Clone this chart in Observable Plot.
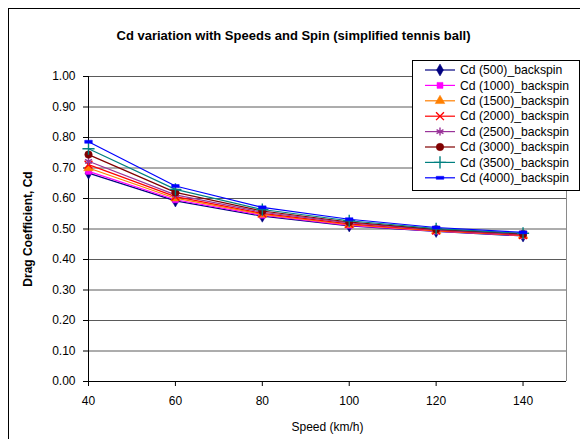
<!DOCTYPE html>
<html>
<head>
<meta charset="utf-8">
<script src="https://cdn.jsdelivr.net/npm/d3@7"></script>
<script src="https://cdn.jsdelivr.net/npm/@observablehq/plot@0.6"></script>
<style>
  html, body { margin: 0; padding: 0; background: #fff; }
  #wrap { position: relative; width: 580px; height: 439px; overflow: hidden; font-family: "Liberation Sans", Arial, sans-serif; }
  #frame { position: absolute; left: 8px; top: 8px; width: 600px; height: 460px; border: 1px solid #000; box-sizing: border-box; pointer-events: none; }
  #legend { position: absolute; left: 0; top: 0; }
</style>
</head>
<body>
<div id="wrap"><div id="frame"></div></div>
<script>
const title = "Cd variation with Speeds and Spin (simplified tennis ball)";
const xLabel = "Speed (km/h)";
const yLabel = "Drag Coefficient, Cd";
const speeds = [40, 60, 80, 100, 120, 140];
const xTicks = [40, 60, 80, 100, 120, 140];
const yTicks = [0, 0.1, 0.2, 0.3, 0.4, 0.5, 0.6, 0.7, 0.8, 0.9, 1.0];

const seriesNames = ["Cd (500)_backspin", "Cd (1000)_backspin", "Cd (1500)_backspin", "Cd (2000)_backspin",
                     "Cd (2500)_backspin", "Cd (3000)_backspin", "Cd (3500)_backspin", "Cd (4000)_backspin"];
const cd500  = [0.683, 0.592, 0.542, 0.510, 0.492, 0.477];
const cd1000 = [0.689, 0.596, 0.545, 0.512, 0.493, 0.478];
const cd1500 = [0.700, 0.601, 0.548, 0.514, 0.494, 0.479];
const cd2000 = [0.711, 0.606, 0.551, 0.517, 0.495, 0.480];
const cd2500 = [0.722, 0.612, 0.555, 0.520, 0.497, 0.482];
const cd3000 = [0.744, 0.620, 0.559, 0.523, 0.499, 0.484];
const cd3500 = [0.763, 0.630, 0.564, 0.527, 0.501, 0.486];
const cd4000 = [0.786, 0.641, 0.571, 0.532, 0.505, 0.489];
const seriesValues = [cd500, cd1000, cd1500, cd2000, cd2500, cd3000, cd3500, cd4000];

const colors = ["#000080", "#ff00ff", "#ff7f00", "#ff0000", "#993399", "#800000", "#008080", "#0000ff"];

// custom symbol: short horizontal bar (Excel "-" marker)
const dash = { draw(ctx, size) { const w = Math.sqrt(size) * 0.6; ctx.rect(-w, -1.5, 2 * w, 3); } };
const symbols = ["diamond", "square", "triangle", "times", "asterisk", "circle", "plus", dash];
const filled = [true, true, true, false, false, true, false, true];
const sizes = [42, 36, 40, 42, 44, 44, 50, 40];

const rows = [];
seriesNames.forEach((name, i) => speeds.forEach((s, j) => rows.push({series: name, i, speed: s, cd: seriesValues[i][j]})));

const marks = [
  Plot.ruleY(yTicks.slice(1), {stroke: "#5a5a5a", strokeWidth: 1}),
  Plot.ruleX([150], {stroke: "#8a8a8a"}),
  Plot.axisX(xTicks, {tickSize: 5, tickPadding: 10, label: null, fontSize: 12}),
  Plot.axisY(yTicks, {tickSize: 5, tickPadding: 8, tickFormat: d3.format(".2f"), label: null, fontSize: 12}),
  Plot.ruleX([40], {stroke: "#000"}),
  Plot.ruleY([0], {stroke: "#000"})
];
seriesNames.forEach((name, i) => {
  const d = rows.filter(r => r.i === i);
  marks.push(Plot.line(d, {x: "speed", y: "cd", stroke: colors[i], strokeWidth: 1.2}));
  marks.push(Plot.dot(d, {x: "speed", y: "cd", symbol: symbols[i],
    fill: filled[i] ? colors[i] : "none", stroke: colors[i], strokeWidth: filled[i] ? 0.5 : 1.4,
    r: Math.sqrt(sizes[i] / Math.PI)}));
});
marks.push(Plot.text([title], {frameAnchor: "top", lineAnchor: "middle", dy: -41, dx: -34, fontWeight: "bold", fontSize: 13, fill: "#000"}));
marks.push(Plot.text([xLabel], {frameAnchor: "bottom", lineAnchor: "middle", dy: 46, fontSize: 12, fill: "#000"}));
marks.push(Plot.text([yLabel], {frameAnchor: "left", textAnchor: "middle", lineAnchor: "middle", dx: -60, rotate: -90, fontWeight: "bold", fontSize: 12, fill: "#000"}));

const chart = Plot.plot({
  width: 580, height: 439,
  marginLeft: 88, marginRight: 14, marginTop: 76, marginBottom: 58,
  x: {domain: [40, 150]},
  y: {domain: [0, 1]},
  style: {fontFamily: "'Liberation Sans', Arial, sans-serif", fontSize: "12px", background: "#fff", color: "#000"},
  marks
});
document.getElementById("wrap").prepend(chart);

// legend
const lg = d3.select("#wrap").append("svg").attr("id", "legend").attr("width", 580).attr("height", 439);
const lx = 412, ly = 60, lw = 167, lh = 130, rowH = 15.4;
lg.append("rect").attr("x", lx + 0.5).attr("y", ly + 0.5).attr("width", lw).attr("height", lh)
  .attr("fill", "#fff").attr("stroke", "#000");
const typeMap = {diamond: d3.symbolDiamond, square: d3.symbolSquare, triangle: d3.symbolTriangle,
  times: d3.symbolTimes || d3.symbolX, asterisk: d3.symbolAsterisk, circle: d3.symbolCircle, plus: d3.symbolPlus};
seriesNames.forEach((name, i) => {
  const cy = ly + 10 + i * rowH;
  lg.append("line").attr("x1", lx + 13).attr("x2", lx + 43).attr("y1", cy).attr("y2", cy)
    .attr("stroke", colors[i]).attr("stroke-width", 1.2);
  const t = typeof symbols[i] === "string" ? typeMap[symbols[i]] : symbols[i];
  lg.append("path").attr("transform", `translate(${lx + 28},${cy})`)
    .attr("d", d3.symbol(t, sizes[i])())
    .attr("fill", filled[i] ? colors[i] : "none").attr("stroke", colors[i])
    .attr("stroke-width", filled[i] ? 0.5 : 1.4);
  lg.append("text").attr("x", lx + 48).attr("y", cy).attr("dy", "0.35em")
    .attr("font-size", 12.2).attr("font-family", "'Liberation Sans', Arial, sans-serif").text(name);
});
</script>
</body>
</html>
